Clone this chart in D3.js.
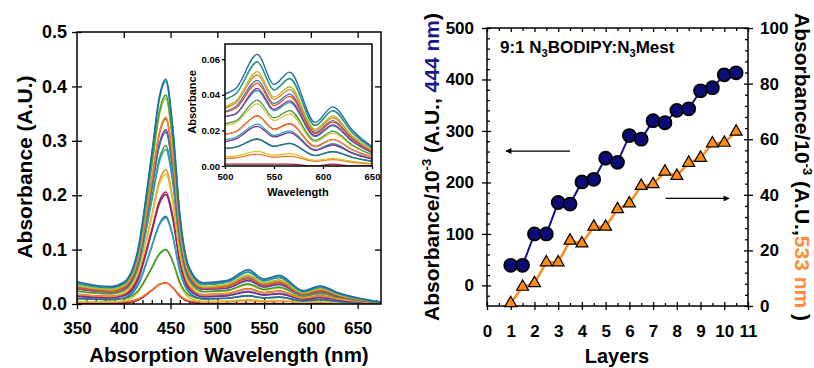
<!DOCTYPE html>
<html lang="en">
<head>
<meta charset="utf-8" />
<title>absorbance vs layers</title>
<script src="https://d3js.org/d3.v7.min.js"></script>
<style>
  body { margin: 0; background: #fff; }
  svg { display: block; }
  text { font-family: Arial, "Liberation Sans", sans-serif; font-weight: bold; }
</style>
</head>
<body>
<div id="chart"></div>
<script>
/*************************************
 * data
 *************************************/

const wavelengths = [350, 385, 400, 415, 430, 438, 445, 452, 460, 470, 485, 510, 533, 550, 566, 592, 610, 630, 675];

// one spectrum per deposition step (absorbance, A.U.)
const sp01 = [0.001, 0.001, 0.002, 0.007, 0.025, 0.036, 0.039, 0.031, 0.014, 0.004, 0.001, 0.001, 0.001, 0.001, 0.001, 0.000, 0.001, 0.000, 0.000];
const sp02 = [0.004, 0.003, 0.004, 0.009, 0.026, 0.036, 0.039, 0.031, 0.016, 0.006, 0.004, 0.0045, 0.0067, 0.0049, 0.0056, 0.0026, 0.0036, 0.0021, 0.0003];
const sp03 = [0.005, 0.004, 0.006, 0.021, 0.066, 0.091, 0.100, 0.079, 0.036, 0.012, 0.005, 0.0056, 0.0082, 0.0060, 0.0069, 0.0032, 0.0043, 0.0026, 0.0004];
const sp04 = [0.010, 0.008, 0.010, 0.024, 0.067, 0.092, 0.100, 0.080, 0.040, 0.016, 0.0095, 0.0105, 0.0154, 0.0112, 0.0129, 0.0060, 0.0082, 0.0049, 0.0008];
const sp05 = [0.010, 0.008, 0.011, 0.034, 0.106, 0.147, 0.161, 0.128, 0.060, 0.021, 0.0095, 0.0105, 0.0150, 0.0110, 0.0126, 0.0058, 0.0080, 0.0048, 0.0008];
const sp06 = [0.015, 0.012, 0.015, 0.037, 0.106, 0.145, 0.158, 0.127, 0.062, 0.025, 0.014, 0.016, 0.0235, 0.0172, 0.0197, 0.0092, 0.0125, 0.0075, 0.0012];
const sp07 = [0.014, 0.011, 0.015, 0.044, 0.133, 0.184, 0.201, 0.160, 0.076, 0.027, 0.013, 0.015, 0.0223, 0.0163, 0.0187, 0.0087, 0.0118, 0.0071, 0.0011];
const sp08 = [0.018, 0.014, 0.018, 0.048, 0.137, 0.189, 0.206, 0.165, 0.080, 0.031, 0.017, 0.019, 0.0283, 0.0207, 0.0238, 0.0110, 0.0150, 0.0091, 0.0014];
const sp09 = [0.018, 0.014, 0.019, 0.055, 0.164, 0.226, 0.247, 0.197, 0.094, 0.034, 0.017, 0.019, 0.0280, 0.0204, 0.0235, 0.0108, 0.0148, 0.0090, 0.0014];
const sp10 = [0.023, 0.018, 0.023, 0.057, 0.160, 0.220, 0.239, 0.192, 0.094, 0.038, 0.022, 0.024, 0.0349, 0.0255, 0.0293, 0.0136, 0.0185, 0.0112, 0.0017];
const sp11 = [0.024, 0.019, 0.025, 0.066, 0.194, 0.267, 0.291, 0.232, 0.112, 0.043, 0.023, 0.025, 0.0370, 0.0270, 0.0311, 0.0144, 0.0196, 0.0118, 0.0019];
const sp12 = [0.028, 0.022, 0.028, 0.068, 0.190, 0.261, 0.284, 0.228, 0.113, 0.046, 0.027, 0.029, 0.0424, 0.0310, 0.0356, 0.0165, 0.0225, 0.0136, 0.0021];
const sp13 = [0.028, 0.022, 0.028, 0.074, 0.214, 0.294, 0.320, 0.256, 0.124, 0.048, 0.027, 0.029, 0.0436, 0.0318, 0.0366, 0.0170, 0.0231, 0.0140, 0.0022];
const sp14 = [0.031, 0.024, 0.031, 0.075, 0.212, 0.290, 0.316, 0.253, 0.125, 0.051, 0.029, 0.033, 0.0481, 0.0351, 0.0404, 0.0188, 0.0255, 0.0154, 0.0024];
const sp15 = [0.030, 0.023, 0.030, 0.079, 0.227, 0.312, 0.340, 0.272, 0.132, 0.052, 0.029, 0.032, 0.0465, 0.0339, 0.0391, 0.0181, 0.0246, 0.0149, 0.0023];
const sp16 = [0.033, 0.026, 0.033, 0.081, 0.230, 0.315, 0.343, 0.275, 0.135, 0.055, 0.031, 0.035, 0.0511, 0.0373, 0.0429, 0.0199, 0.0271, 0.0164, 0.0026];
const sp17 = [0.034, 0.027, 0.034, 0.088, 0.253, 0.347, 0.378, 0.302, 0.148, 0.058, 0.032, 0.036, 0.0530, 0.0387, 0.0445, 0.0207, 0.0281, 0.0170, 0.0027];
const sp18 = [0.038, 0.030, 0.037, 0.092, 0.258, 0.353, 0.384, 0.308, 0.152, 0.062, 0.036, 0.040, 0.0583, 0.0426, 0.0490, 0.0227, 0.0309, 0.0187, 0.0029];
const sp19 = [0.038, 0.030, 0.038, 0.096, 0.274, 0.376, 0.409, 0.327, 0.160, 0.064, 0.036, 0.040, 0.0586, 0.0428, 0.0492, 0.0229, 0.0311, 0.0188, 0.0029];
const sp20 = [0.041, 0.032, 0.040, 0.099, 0.277, 0.380, 0.413, 0.331, 0.164, 0.067, 0.039, 0.043, 0.0627, 0.0458, 0.0527, 0.0245, 0.0332, 0.0201, 0.0031];

const spectra = [sp01, sp02, sp03, sp04, sp05, sp06, sp07, sp08, sp09, sp10,
                 sp11, sp12, sp13, sp14, sp15, sp16, sp17, sp18, sp19, sp20];

const spectrumColors = ["#a3203a", "#ee7a2c", "#d8c42c", "#3c9a34", "#2a6ca8",
                        "#33a3b5", "#7b2d8e", "#b0204c", "#f28c2e", "#e2c22e",
                        "#3a9c44", "#2fa2a6", "#8c2fa0", "#3f76b6", "#e0561e",
                        "#f0822a", "#a8c232", "#46a436", "#2a92a2", "#1f6ca6"];

// right panel: absorbance (x10^-3) vs number of layers
const layers = [1, 1.5, 2, 2.5, 3, 3.5, 4, 4.5, 5, 5.5, 6, 6.5, 7, 7.5, 8, 8.5, 9, 9.5, 10, 10.5];
const abs444 = [39, 39, 100, 100, 161, 158, 201, 206, 247, 239, 291, 284, 320, 316, 340, 343, 378, 384, 409, 413];
const abs533 = [1, 6.9, 8.2, 15.7, 15.7, 23.5, 22.5, 28.5, 28.5, 34.8, 36.9, 43.2, 43.8, 48.3, 46.8, 51.5, 53.3, 58.5, 58.7, 62.7];

// tick values
const absTicks = [0, 0.1, 0.2, 0.3, 0.4, 0.5];
const wlTicks = [350, 400, 450, 500, 550, 600, 650];
const insetAbsTicks = [0, 0.02, 0.04, 0.06];
const insetWlTicks = [500, 550, 600, 650];
const layerTicks = [0, 1, 2, 3, 4, 5, 6, 7, 8, 9, 10, 11];
const abs444Ticks = [0, 100, 200, 300, 400, 500];
const abs533Ticks = [0, 20, 40, 60, 80, 100];

/*************************************
 * svg + helpers
 *************************************/

const svg = d3.select("#chart").append("svg").attr("width", 814).attr("height", 368);

function styleAxis(g, size) {
  g.attr("font-family", "Arial, 'Liberation Sans', sans-serif")
    .attr("font-size", size || 10)
    .attr("font-weight", "bold");
  g.select(".domain").remove();
  g.selectAll("line").attr("stroke", "#000").attr("stroke-width", 1.3);
  g.selectAll("text").attr("fill", "#000");
}

function drawAxis(axis, x, y, size) {
  return svg.append("g")
    .attr("transform", `translate(${x},${y})`)
    .call(axis)
    .call((g) => styleAxis(g, size));
}

function frame(x0, y0, x1, y1) {
  svg.append("rect")
    .attr("x", x0).attr("y", y0)
    .attr("width", x1 - x0).attr("height", y1 - y0)
    .attr("fill", "none").attr("stroke", "#000").attr("stroke-width", 1.5);
}

/*************************************
 * left panel: spectra
 *************************************/

const specX = d3.scaleLinear().domain([350, 675]).range([77, 381]);
const specY = d3.scaleLinear().domain([0, 0.5]).range([304, 32]);

drawAxis(d3.axisLeft(specY).tickValues(absTicks).tickFormat(d3.format(".1f")).tickSize(5).tickPadding(5), 77, 0, 18);
drawAxis(d3.axisRight(specY).tickValues(absTicks).tickSize(5).tickFormat(""), 77, 0);
drawAxis(d3.axisLeft(specY).tickValues(absTicks.slice(1, 5)).tickSize(6).tickFormat(""), 381, 0);
drawAxis(d3.axisBottom(specX).tickValues(wlTicks).tickSize(5).tickPadding(13).tickFormat(d3.format("d")), 0, 304, 17);
drawAxis(d3.axisTop(specX).tickValues(wlTicks).tickSize(6).tickFormat(""), 0, 304);
drawAxis(d3.axisTop(specX).tickValues(d3.range(360, 675, 10).filter((v) => v % 50 !== 0)).tickSize(4).tickFormat(""), 0, 304);
drawAxis(d3.axisBottom(specX).tickValues(wlTicks.slice(1)).tickSize(6).tickFormat(""), 0, 32);

svg.append("clipPath").attr("id", "spec-clip")
  .append("rect").attr("x", 77).attr("y", 32).attr("width", 304).attr("height", 272);

const specLine = d3.line()
  .x((d, i) => specX(wavelengths[i]))
  .y((d) => specY(d))
  .curve(d3.curveMonotoneX);

svg.append("g").attr("clip-path", "url(#spec-clip)")
  .selectAll("path")
  .data(spectra)
  .join("path")
  .attr("d", specLine)
  .attr("fill", "none")
  .attr("stroke", (d, i) => spectrumColors[i])
  .attr("stroke-width", 1.6);

frame(77, 32, 381, 304);

svg.append("text")
  .attr("x", 229).attr("y", 362)
  .attr("text-anchor", "middle").attr("font-size", 20.5)
  .text("Absorption Wavelength (nm)");

svg.append("text")
  .attr("transform", "translate(32,167) rotate(-90)")
  .attr("text-anchor", "middle").attr("font-size", 21)
  .text("Absorbance (A.U.)");

/*************************************
 * inset: zoom on 500-650 nm
 *************************************/

const insetX = d3.scaleLinear().domain([500, 650]).range([225, 372]);
const insetY = d3.scaleLinear().domain([0, 0.0685]).range([166, 44]);

svg.append("rect").attr("x", 225).attr("y", 44).attr("width", 147).attr("height", 122).attr("fill", "#fff");

svg.append("clipPath").attr("id", "inset-clip")
  .append("rect").attr("x", 225).attr("y", 44).attr("width", 147).attr("height", 122);

const insetLine = d3.line()
  .x((d, i) => insetX(wavelengths[i]))
  .y((d) => insetY(d))
  .curve(d3.curveMonotoneX);

svg.append("g").attr("clip-path", "url(#inset-clip)")
  .selectAll("path")
  .data(spectra)
  .join("path")
  .attr("d", insetLine)
  .attr("fill", "none")
  .attr("stroke", (d, i) => spectrumColors[i])
  .attr("stroke-width", 1.3);

drawAxis(d3.axisLeft(insetY).tickValues(insetAbsTicks).tickFormat(d3.format(".2f")).tickSize(3).tickPadding(2), 225, 0, 9.5);
drawAxis(d3.axisBottom(insetX).tickValues(insetWlTicks).tickFormat(d3.format("d")).tickSize(3).tickPadding(4), 0, 166, 9.5);
frame(225, 44, 372, 166);

svg.append("text")
  .attr("x", 298).attr("y", 196)
  .attr("text-anchor", "middle").attr("font-size", 11)
  .text("Wavelength");

svg.append("text")
  .attr("transform", "translate(196,102) rotate(-90)")
  .attr("text-anchor", "middle").attr("font-size", 11)
  .text("Absorbance");

/*************************************
 * right panel: absorbance vs layers
 *************************************/

const layerX = d3.scaleLinear().domain([0, 11]).range([487, 748]);
const y444 = d3.scaleLinear().domain([-40, 500]).range([306, 28]);
const y533 = d3.scaleLinear().domain([0, 100]).range([306, 28]);

// left axis (444 nm)
drawAxis(d3.axisLeft(y444).tickValues(abs444Ticks).tickSize(5).tickPadding(8), 487, 0, 17);
drawAxis(d3.axisRight(y444).tickValues(abs444Ticks).tickSize(4).tickFormat(""), 487, 0);
drawAxis(d3.axisRight(y444).tickValues(d3.range(-20, 500, 20).filter((v) => v % 100 !== 0)).tickSize(3).tickFormat(""), 487, 0);

// right axis (533 nm)
drawAxis(d3.axisRight(y533).tickValues(abs533Ticks).tickSize(5).tickPadding(7), 748, 0, 17);
drawAxis(d3.axisLeft(y533).tickValues(abs533Ticks).tickSize(4).tickFormat(""), 748, 0);
drawAxis(d3.axisLeft(y533).tickValues(d3.range(4, 100, 4).filter((v) => v % 20 !== 0)).tickSize(3).tickFormat(""), 748, 0);

// bottom + top
drawAxis(d3.axisBottom(layerX).tickValues(layerTicks).tickSize(4).tickPadding(15), 0, 306, 17);
drawAxis(d3.axisTop(layerX).tickValues(layerTicks).tickSize(4).tickFormat(""), 0, 306);
drawAxis(d3.axisTop(layerX).tickValues(d3.range(0.5, 11, 1)).tickSize(3).tickFormat(""), 0, 306);
drawAxis(d3.axisBottom(layerX).tickValues(layerTicks).tickSize(4).tickFormat(""), 0, 28);
drawAxis(d3.axisBottom(layerX).tickValues(d3.range(0.5, 11, 1)).tickSize(3).tickFormat(""), 0, 28);

frame(487, 28, 748, 306);

// series lines
const line444 = d3.line().x((d, i) => layerX(layers[i])).y((d) => y444(d));
const line533 = d3.line().x((d, i) => layerX(layers[i])).y((d) => y533(d));

svg.append("path").datum(abs444).attr("d", line444)
  .attr("fill", "none").attr("stroke", "#14148a").attr("stroke-width", 2);
svg.append("path").datum(abs533).attr("d", line533)
  .attr("fill", "none").attr("stroke", "#ff8c1a").attr("stroke-width", 2.5);

svg.append("g").selectAll("path")
  .data(abs533)
  .join("path")
  .attr("transform", (d, i) => `translate(${layerX(layers[i])},${y533(d)})`)
  .attr("d", d3.symbol(d3.symbolTriangle, 62))
  .attr("fill", "#ff8c1a").attr("stroke", "#000").attr("stroke-width", 1.2);

svg.append("g").selectAll("circle")
  .data(abs444)
  .join("circle")
  .attr("cx", (d, i) => layerX(layers[i]))
  .attr("cy", (d) => y444(d))
  .attr("r", 6.5)
  .attr("fill", "#0c0c78").attr("stroke", "#000").attr("stroke-width", 1.8);

// arrows telling which axis each series uses
svg.append("defs").append("marker")
  .attr("id", "head").attr("viewBox", "0 0 10 10")
  .attr("refX", 9).attr("refY", 5)
  .attr("markerWidth", 8).attr("markerHeight", 6)
  .attr("markerUnits", "userSpaceOnUse")
  .attr("orient", "auto")
  .append("path").attr("d", "M0,0 L10,5 L0,10 Z").attr("fill", "#000");

svg.append("line")
  .attr("x1", layerX(3.5)).attr("y1", y444(261))
  .attr("x2", layerX(0.8)).attr("y2", y444(261))
  .attr("stroke", "#000").attr("stroke-width", 1.2).attr("marker-end", "url(#head)");

svg.append("line")
  .attr("x1", layerX(7.53)).attr("y1", y533(38.7))
  .attr("x2", layerX(10.2)).attr("y2", y533(38.7))
  .attr("stroke", "#000").attr("stroke-width", 1.2).attr("marker-end", "url(#head)");

// panel title with subscripts
const title = svg.append("text").attr("x", 500).attr("y", 53).attr("font-size", 17);
title.append("tspan").text("9:1 N");
title.append("tspan").attr("font-size", 11).attr("dy", 4).text("3");
title.append("tspan").attr("dy", -4).text("BODIPY:N");
title.append("tspan").attr("font-size", 11).attr("dy", 4).text("3");
title.append("tspan").attr("dy", -4).text("Mest");

// axis titles
svg.append("text")
  .attr("x", 617).attr("y", 363)
  .attr("text-anchor", "middle").attr("font-size", 20)
  .text("Layers");

const leftTitle = svg.append("text")
  .attr("transform", "translate(439,167) rotate(-90)")
  .attr("text-anchor", "middle").attr("font-size", 21);
leftTitle.append("tspan").text("Absorbance/10");
leftTitle.append("tspan").attr("font-size", 13).attr("dy", -8).text("-3");
leftTitle.append("tspan").attr("dy", 8).text(" (A.U., ");
leftTitle.append("tspan").attr("fill", "#1a1a8c").text("444 nm");
leftTitle.append("tspan").text(")");

const rightTitle = svg.append("text")
  .attr("transform", "translate(795,167) rotate(90)")
  .attr("text-anchor", "middle").attr("font-size", 21);
rightTitle.append("tspan").text("Absorbance/10");
rightTitle.append("tspan").attr("font-size", 13).attr("dy", -8).text("-3");
rightTitle.append("tspan").attr("dy", 8).text(" (A.U.,");
rightTitle.append("tspan").attr("fill", "#ff8c3a").text("533 nm");
rightTitle.append("tspan").text(" )");
</script>
</body>
</html>
